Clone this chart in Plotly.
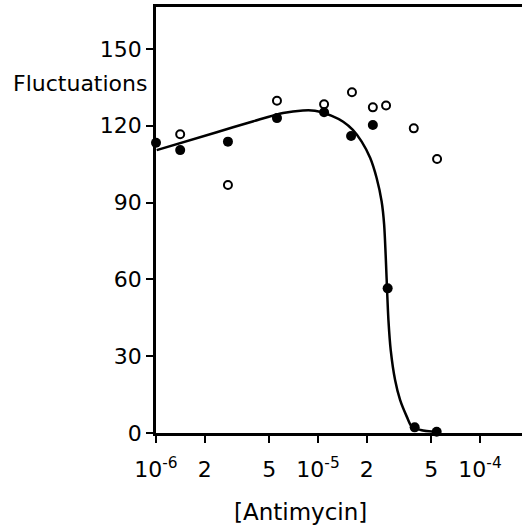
import plotly.graph_objects as go

# Antimycin concentration (M) and fluctuation counts
filled_conc = [1.0e-6, 1.41e-6, 2.78e-6, 5.58e-6, 1.09e-5, 1.6e-5, 2.18e-5, 2.69e-5, 3.95e-5, 5.4e-5]
filled_vals = [113.4, 110.5, 113.8, 123.0, 125.3, 116.0, 120.3, 56.5, 2.2, 0.5]

open_conc = [1.41e-6, 2.78e-6, 5.58e-6, 1.09e-5, 1.62e-5, 2.18e-5, 2.63e-5, 3.9e-5, 5.43e-5]
open_vals = [116.7, 96.9, 129.8, 128.4, 133.1, 127.2, 127.9, 119.0, 107.0]

# hand-fitted curve through the filled points
curve_conc = [1.01e-6, 2.37e-6, 4.0e-6, 6.08e-6, 8.07e-6, 9.57e-6,
              1.216e-5, 1.43e-5, 1.64e-5, 1.86e-5, 2.10e-5, 2.30e-5, 2.47e-5, 2.56e-5,
              2.72e-5, 2.81e-5, 2.99e-5, 3.21e-5, 3.53e-5, 3.79e-5, 4.3e-5, 5.43e-5]
curve_vals = [110.5, 117.5, 121.8, 125.0, 126.0, 125.9,
              123.9, 121.6, 118.4, 113.8, 107.4, 99.6, 90.4, 81.3,
              44.1, 32.4, 20.7, 12.9, 6.4, 2.5, 1.2, 0.4]

x_tickvals = [1e-6, 2e-6, 5e-6, 1e-5, 2e-5, 5e-5, 1e-4]
x_ticktext = ["10<sup>-6</sup>", "2", "5", "10<sup>-5</sup>", "2", "5", "10<sup>-4</sup>"]
y_tickvals = [0, 30, 60, 90, 120, 150]
y_ticktext = ["0", "30", "60", "90", "120", "150"]

FONT = "DejaVu Sans"

fig = go.Figure()
fig.add_trace(go.Scatter(
    x=curve_conc, y=curve_vals, mode="lines",
    line=dict(color="black", width=2.5, shape="spline", smoothing=0.8),
    hoverinfo="skip", cliponaxis=False,
))
fig.add_trace(go.Scatter(
    x=open_conc, y=open_vals, mode="markers",
    marker=dict(symbol="circle-open", size=8, color="black", line=dict(width=2, color="black")),
    cliponaxis=False,
))
fig.add_trace(go.Scatter(
    x=filled_conc, y=filled_vals, mode="markers",
    marker=dict(symbol="circle", size=10, color="black"),
    cliponaxis=False,
))

fig.update_layout(
    width=522, height=532,
    margin=dict(l=156, r=0, t=7, b=99),
    paper_bgcolor="white", plot_bgcolor="white",
    showlegend=False,
    font=dict(family=FONT, size=21, color="black"),
    xaxis=dict(
        type="log", range=[-6.0, -3.741],
        tickvals=x_tickvals, ticktext=x_ticktext,
        ticks="outside", ticklen=7, tickwidth=2, tickcolor="black",
        ticklabelstandoff=8,
        showline=True, linewidth=2.5, linecolor="black", mirror=True,
        showgrid=False, zeroline=False,
        tickfont=dict(family=FONT, size=22),
    ),
    yaxis=dict(
        range=[0, 166.4],
        tickvals=y_tickvals, ticktext=y_ticktext,
        ticks="outside", ticklen=7, tickwidth=2, tickcolor="black",
        showline=True, linewidth=2.5, linecolor="black",
        showgrid=False, zeroline=False,
        tickfont=dict(family=FONT, size=22),
    ),
    annotations=[
        dict(text="Fluctuations", xref="paper", yref="y", x=0, y=136.7,
             xanchor="right", yanchor="middle", xshift=-7, showarrow=False,
             font=dict(family=FONT, size=22)),
        dict(text="[Antimycin]", xref="paper", yref="paper", x=(300 - 156) / 366, y=0,
             xanchor="center", yanchor="middle", yshift=-(512 - 433), showarrow=False,
             font=dict(family=FONT, size=23)),
    ],
)

fig.write_html("out.html")
